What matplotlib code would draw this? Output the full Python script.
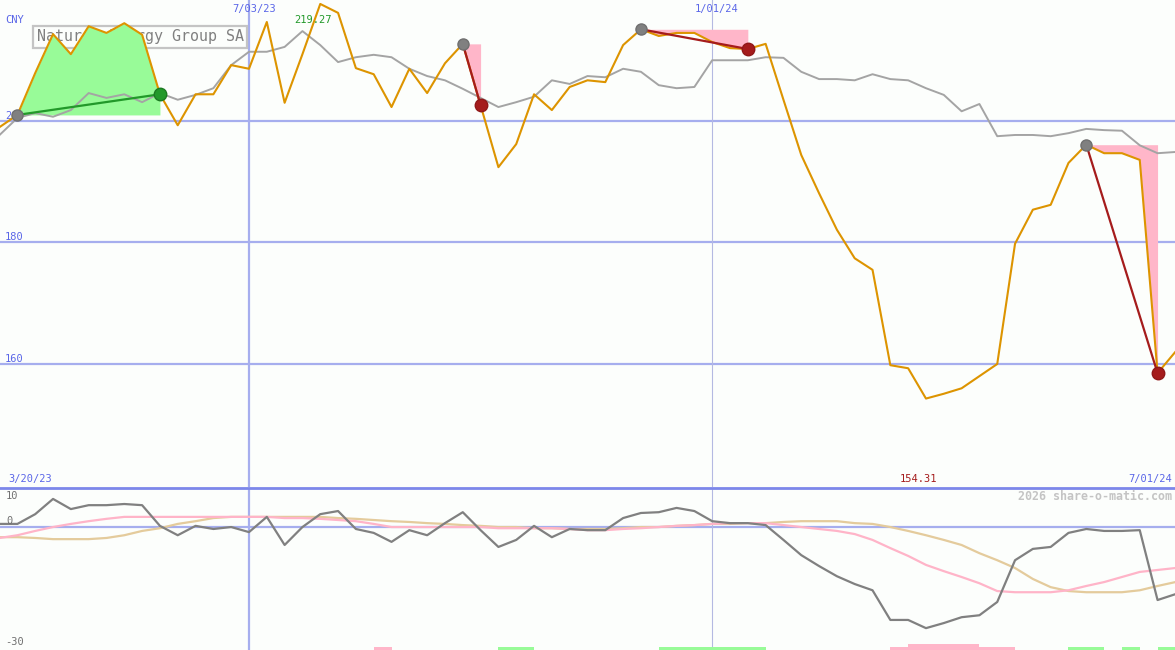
import numpy as np
import pandas as pd
import matplotlib
matplotlib.use("Agg")
import matplotlib.pyplot as plt
import matplotlib.dates as mdates
from matplotlib.patches import Rectangle

W, H = 1175, 650

# ---------------- data ----------------
dates = pd.date_range("2023-03-27", periods=67, freq="7D")

price = [199.0, 201.0, 207.9, 214.3, 211.0, 215.6, 214.5, 216.1, 214.2, 204.4,
         199.3, 204.4, 204.4, 209.2, 208.6, 216.3, 203.0, 211.0, 219.27, 217.8,
         208.7, 207.7, 202.3, 208.6, 204.6, 209.5, 212.7, 202.6, 192.4, 196.2,
         204.4, 201.8, 205.6, 206.7, 206.4, 212.5, 215.1, 214.0, 214.5, 214.5,
         213.0, 212.0, 211.85, 212.7, 203.5, 194.4, 188.1, 182.1, 177.4, 175.5,
         159.8, 159.3, 154.31, 155.1, 156.0, 158.0, 160.0, 179.8, 185.4, 186.2,
         193.1, 196.1, 194.7, 194.7, 193.6, 158.5, 162.0]

bench = [197.7, 200.5, 201.3, 200.7, 201.8, 204.6, 203.8, 204.4, 203.1, 204.6,
         203.5, 204.3, 205.4, 209.2, 211.4, 211.4, 212.2, 214.8, 212.5, 209.7,
         210.5, 210.9, 210.5, 208.6, 207.4, 206.7, 205.3, 203.8, 202.3, 203.1,
         204.0, 206.7, 206.1, 207.4, 207.2, 208.6, 208.1, 205.9, 205.4, 205.6,
         210.0, 210.0, 210.0, 210.5, 210.4, 208.1, 206.9, 206.9, 206.7, 207.7,
         206.9, 206.7, 205.4, 204.3, 201.6, 202.8, 197.5, 197.7, 197.7, 197.5,
         198.0, 198.7, 198.5, 198.4, 196.0, 194.7, 194.9]

momentum = [0.8, 0.8, 3.3, 7.2, 4.6, 5.6, 5.6, 5.9, 5.6, 0.3,
            -2.1, 0.3, -0.5, 0.0, -1.3, 2.6, -4.6, 0.0, 3.3, 4.1,
            -0.5, -1.5, -3.8, -0.8, -2.1, 1.0, 3.8, -0.8, -5.1, -3.3,
            0.3, -2.6, -0.5, -0.8, -0.8, 2.3, 3.6, 3.8, 4.9, 4.1,
            1.5, 1.0, 1.0, 0.5, -3.3, -7.2, -10.0, -12.6, -14.6, -16.2,
            -23.8, -23.8, -25.9, -24.6, -23.1, -22.6, -19.2, -8.5, -5.6, -5.1,
            -1.5, -0.5, -1.0, -1.0, -0.8, -18.7, -17.2]

pink_avg = [-2.8, -2.1, -1.0, 0.0, 0.8, 1.5, 2.1, 2.6, 2.6, 2.6,
            2.6, 2.6, 2.6, 2.6, 2.6, 2.6, 2.3, 2.3, 2.1, 1.8,
            1.5, 0.8, 0.0, 0.0, 0.0, 0.0, 0.0, 0.0, -0.3, -0.3,
            -0.3, -0.3, -0.5, -0.8, -0.8, -0.5, -0.3, 0.0, 0.3, 0.5,
            0.8, 1.0, 1.0, 1.0, 0.5, 0.0, -0.5, -1.0, -1.8, -3.3,
            -5.4, -7.4, -9.7, -11.3, -12.8, -14.4, -16.4, -16.7, -16.7, -16.7,
            -16.2, -15.1, -14.1, -12.8, -11.5, -11.0, -10.5]

tan_avg = [-2.6, -2.6, -2.8, -3.1, -3.1, -3.1, -2.8, -2.1, -1.0, -0.3,
           0.8, 1.5, 2.3, 2.6, 2.6, 2.6, 2.6, 2.6, 2.6, 2.3,
           2.1, 1.8, 1.5, 1.3, 1.0, 0.8, 0.5, 0.3, 0.0, 0.0,
           -0.3, -0.3, -0.5, -0.5, -0.5, -0.3, 0.0, 0.0, 0.3, 0.5,
           0.8, 0.8, 1.0, 1.0, 1.3, 1.5, 1.5, 1.5, 1.0, 0.8,
           0.0, -1.0, -2.1, -3.3, -4.6, -6.7, -8.5, -10.5, -13.3, -15.4,
           -16.4, -16.7, -16.7, -16.7, -16.2, -15.1, -14.1]

gain_segments = [(1, 9)]                      # (start index, end index)
loss_segments = [(26, 27), (36, 42), (61, 65)]

pink_bars = [(21, 22, 1), (50, 57, 1), (51, 55, 2)]   # (start, end, level)
green_bars = [(28, 30, 1), (37, 43, 1), (60, 62, 1), (63, 64, 1), (65, 66, 1)]

title = "Naturgy Energy Group SA"
currency = "CNY"
top_ticks = [200, 180, 160]
bottom_ticks = ["10", "0", "-30"]
date_marks = ["2023-07-03", "2024-01-01"]

# ---------------- styles ----------------
BG = "#fcfefc"
BLUE_TXT = "#5a66e8"
GRID = "#a6aeee"
ORANGE = "#dd9400"
GRAY = "#a4a4a4"
DARKRED = "#a51c1c"
GREEN = "#22992a"
PINKFILL = "#ffb6c9"
GREENFILL = "#98fb98"
MONO = "DejaVu Sans Mono"

x = mdates.date2num(dates)
price = np.array(price)

fig = plt.figure(figsize=(W / 100, H / 100), dpi=100, facecolor=BG)
ax1 = fig.add_axes([0, 1 - 487 / H, 1, 487 / H])
ax2 = fig.add_axes([0, 0, 1, 162 / H])
for ax in (ax1, ax2):
    ax.set_facecolor(BG)
    ax.set_xticks([])
    ax.set_yticks([])
    for s in ax.spines.values():
        s.set_visible(False)

pxday = 2.545
x_left = mdates.date2num(pd.Timestamp("2023-07-03")) - 249 / pxday
x_right = x_left + W / pxday
ax1.set_xlim(x_left, x_right)
ax2.set_xlim(x_left, x_right)
ax1.set_ylim(139.75, 219.92)
ax2.set_ylim(-31.5, 10)

# grid lines
for t in top_ticks:
    ax1.axhline(t, color=GRID, lw=1.6, zorder=1)
ax2.axhline(0, color=GRID, lw=1.6, zorder=1)
d1 = mdates.date2num(pd.Timestamp(date_marks[0]))
d2 = mdates.date2num(pd.Timestamp(date_marks[1]))
for ax in (ax1, ax2):
    ax.axvline(d1, color=GRID, lw=1.6, zorder=1)
    ax.axvline(d2, color="#b4b9e2", lw=0.8, zorder=1)

# separator
ax2.spines["top"].set_visible(True)
ax2.spines["top"].set_color("#7c87ea")
ax2.spines["top"].set_linewidth(2)

# legend box (beneath data)
ax1.add_patch(Rectangle((33 / W, 1 - 48 / H), 214 / W, 22 / H, transform=fig.transFigure,
                        facecolor="none", edgecolor="#c4c4c4", lw=1.6, zorder=1.2))
ax1.text(37 / W, 1 - 37 / H, title, transform=fig.transFigure, fontsize=10.8,
         family=MONO, color="#808080", va="center", ha="left", zorder=1.3)

# y labels top
for t in top_ticks:
    yv = t + 5 / 6.075
    ax1.text(5 / W, yv, str(t), transform=ax1.get_yaxis_transform(), fontsize=7.5,
             family=MONO, color=BLUE_TXT, va="center", ha="left", zorder=1.4)

# fills
for a, b in gain_segments:
    base = price[a]
    ax1.fill_between(x[a:b + 1], base, price[a:b + 1], color=GREENFILL, lw=0, zorder=2)
for a, b in loss_segments:
    peak = price[a]
    ax1.fill_between(x[a:b + 1], peak, price[a:b + 1], color=PINKFILL, lw=0, zorder=2)

# lines
ax1.plot(x, bench, color=GRAY, lw=1.4, zorder=3)
ax1.plot(x, price, color=ORANGE, lw=1.5, zorder=4)

for a, b in gain_segments:
    ax1.plot([x[a], x[b]], [price[a], price[b]], color=GREEN, lw=1.6, zorder=5)
    ax1.plot(x[a], price[a], "o", color="#808080", ms=8, mec="#707070", zorder=6)
    ax1.plot(x[b], price[b], "o", color=GREEN, ms=9, mec="#1c7a22", zorder=6)
for a, b in loss_segments:
    ax1.plot([x[a], x[b]], [price[a], price[b]], color=DARKRED, lw=1.6, zorder=5)
    ax1.plot(x[a], price[a], "o", color="#808080", ms=8, mec="#707070", zorder=6)
    ax1.plot(x[b], price[b], "o", color=DARKRED, ms=9, mec="#901818", zorder=6)

# bottom panel
ax2.plot(x, tan_avg, color="#e4cb9c", lw=1.6, zorder=3)
ax2.plot(x, pink_avg, color="#ffb4c8", lw=1.6, zorder=3)
ax2.plot(x, momentum, color="#808080", lw=1.6, zorder=4)

unit = 41.5 / 162
for a, b, lev in pink_bars:
    ax2.add_patch(Rectangle((x[a], -31.5), x[b] - x[a], 3 * lev * unit,
                            facecolor=PINKFILL, lw=0, zorder=2))
for a, b, lev in green_bars:
    ax2.add_patch(Rectangle((x[a], -31.5), x[b] - x[a], 3 * lev * unit,
                            facecolor=GREENFILL, lw=0, zorder=2))

# texts
def ftext(px, py, s, **kw):
    kw.setdefault("family", MONO)
    kw.setdefault("fontsize", 7.5)
    kw.setdefault("va", "center")
    fig.text(px / W, 1 - py / H, s, **kw)

ftext(5, 20, currency, color=BLUE_TXT)
ftext(254, 9, "7/03/23", color=BLUE_TXT, ha="center")
ftext(717, 9, "1/01/24", color=BLUE_TXT, ha="center")
ftext(313, 20, "219.27", color=GREEN, ha="center")
ftext(8, 479, "3/20/23", color=BLUE_TXT, ha="left")
ftext(918, 479, "154.31", color=DARKRED, ha="center")
ftext(1172, 479, "7/01/24", color=BLUE_TXT, ha="right")
ftext(1172, 496, "2026 share-o-matic.com", color="#c4c4c4", ha="right", fontsize=8.4,
      fontweight="bold")
ftext(6, 496, bottom_ticks[0], color="#707070", ha="left")
ftext(6, 521, bottom_ticks[1], color="#707070", ha="left")
ftext(5, 642, bottom_ticks[2], color="#707070", ha="left")

fig.savefig("out.png", dpi=100, facecolor=BG)
